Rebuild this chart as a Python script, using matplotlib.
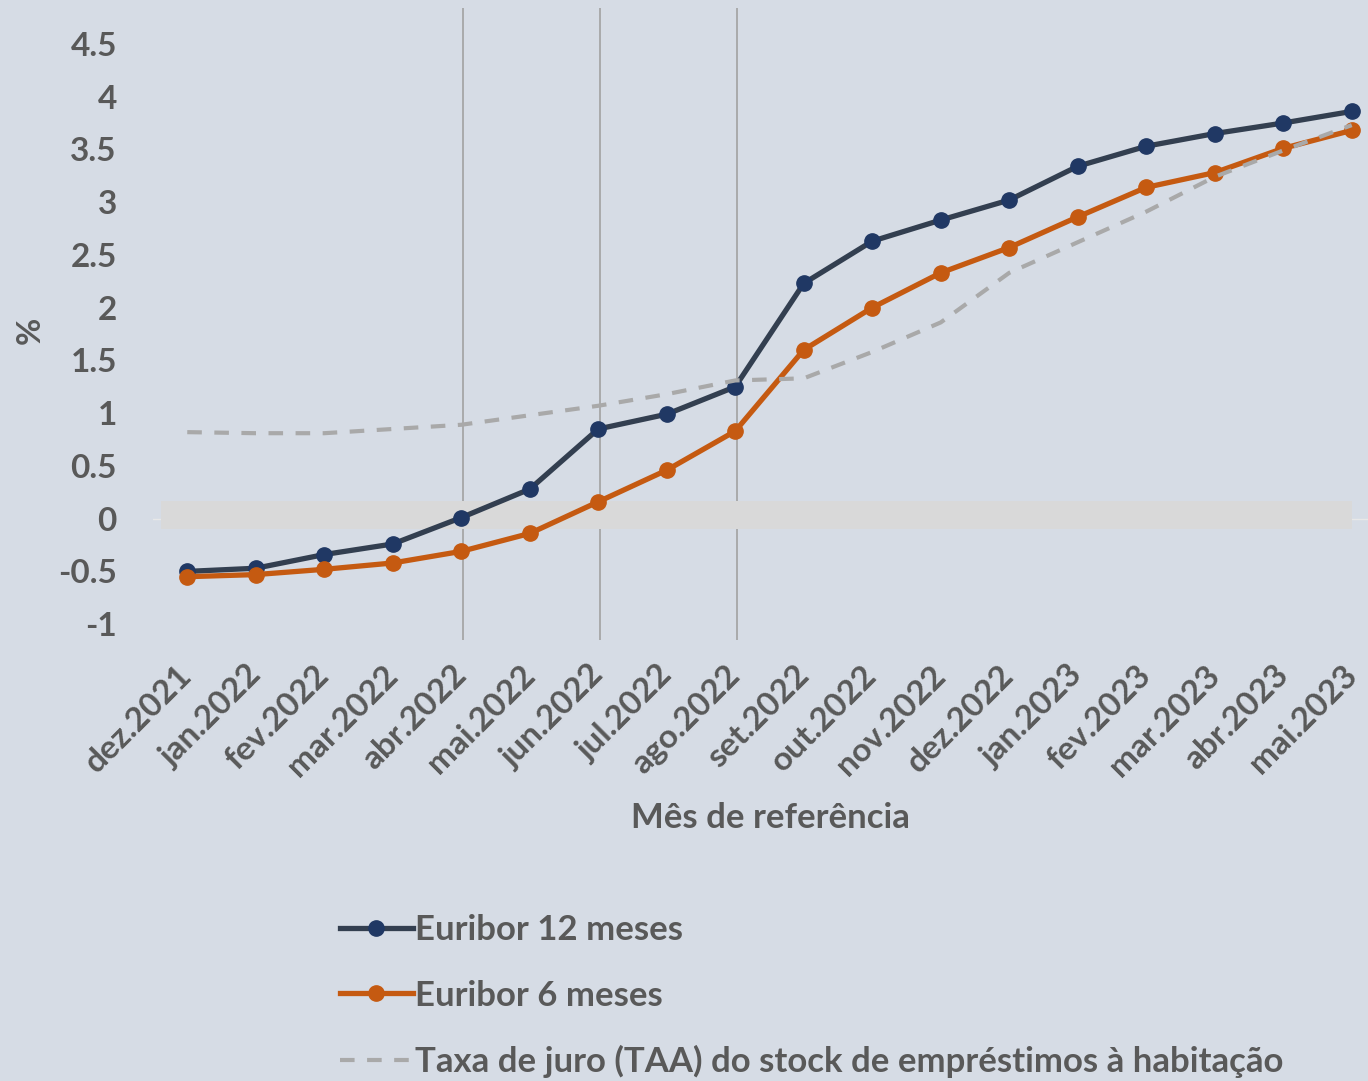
import matplotlib
matplotlib.use("Agg")
import matplotlib.pyplot as plt
from matplotlib.patches import Rectangle

meses = ["dez.2021", "jan.2022", "fev.2022", "mar.2022", "abr.2022", "mai.2022",
         "jun.2022", "jul.2022", "ago.2022", "set.2022", "out.2022", "nov.2022",
         "dez.2022", "jan.2023", "fev.2023", "mar.2023", "abr.2023", "mai.2023"]

euribor_12m = [-0.50, -0.47, -0.34, -0.24, 0.01, 0.28, 0.85, 0.99, 1.25,
               2.23, 2.63, 2.83, 3.02, 3.34, 3.53, 3.65, 3.75, 3.86]
euribor_6m = [-0.55, -0.53, -0.48, -0.42, -0.31, -0.14, 0.16, 0.46, 0.83,
              1.60, 2.00, 2.33, 2.57, 2.86, 3.14, 3.28, 3.51, 3.68]
taxa_taa = [0.82, 0.81, 0.81, 0.85, 0.89, 0.98, 1.07, 1.18, 1.31,
            1.33, 1.58, 1.86, 2.33, 2.62, 2.91, 3.24, 3.49, 3.73]

# meses marcados com linha vertical
marcas = ["abr.2022", "jun.2022", "ago.2022"]

bg = "#D6DCE5"
txt = "#595959"
plt.rcParams["font.family"] = ["Lato", "DejaVu Sans"]
plt.rcParams["font.weight"] = "bold"

fig = plt.figure(figsize=(13.68, 10.81), dpi=100, facecolor=bg)
ax = fig.add_axes([153 / 1368, 1 - 640 / 1081, (1386 - 153) / 1368, (640 - 8) / 1081])
ax.set_facecolor(bg)

x = list(range(len(meses)))

for m in marcas:
    ax.axvline(meses.index(m) + 0.03, color="#A6A6A6", lw=1.3, zorder=1)

# faixa cinzenta em torno do zero
ax.add_patch(Rectangle((-0.39, -0.095), 17.39, 0.265, facecolor="#D9D9D9",
                       edgecolor="none", zorder=2))
ax.axhline(0, color="#E8E8E8", lw=1, zorder=1.5)

ax.plot(x, euribor_12m, color="#333F50", lw=3.8, marker="o", ms=11,
        mfc="#203864", mec="#203864", label="Euribor 12 meses", zorder=3, clip_on=False)
ax.plot(x, euribor_6m, color="#C55A11", lw=3.8, marker="o", ms=11,
        mfc="#C55A11", mec="#C55A11", label="Euribor 6 meses", zorder=4, clip_on=False)
ax.plot(x, taxa_taa, color="#A9A9A9", lw=3, ls=(0, (3.5, 3)),
        label="Taxa de juro (TAA) do stock de empréstimos à habitação", zorder=5, clip_on=False)

ax.set_xlim(-0.5, 17.5)
ax.set_ylim(-1.15, 4.84)
ax.set_yticks([-1, -0.5, 0, 0.5, 1, 1.5, 2, 2.5, 3, 3.5, 4, 4.5])
ax.set_yticklabels(["-1", "-0.5", "0", "0.5", "1", "1.5", "2", "2.5", "3", "3.5", "4", "4.5"])
ax.set_xticks(x)
ax.set_xticklabels(meses, rotation=45, ha="right", va="center", rotation_mode="anchor")
ax.tick_params(axis="y", length=0, pad=26, labelsize=24, labelcolor=txt)
ax.tick_params(axis="x", length=0, pad=22, labelsize=24, labelcolor=txt)
for s in ax.spines.values():
    s.set_visible(False)

fig.text(30 / 1368, 1 - 330 / 1081, "%", rotation=90, ha="center", va="center",
         fontsize=24, color=txt, fontweight="bold")
fig.text(770 / 1368, 1 - 818 / 1081, "Mês de referência", ha="center", va="center",
         fontsize=25, color=txt, fontweight="bold")

leg = fig.legend(loc="upper left", bbox_to_anchor=(326 / 1368, 1 - 900 / 1081),
                 frameon=False, fontsize=25, handlelength=2.1, handletextpad=0.05,
                 labelspacing=0.97, borderaxespad=0)
for t in leg.get_texts():
    t.set_color(txt)

fig.savefig("out.png", dpi=100, facecolor=bg)
